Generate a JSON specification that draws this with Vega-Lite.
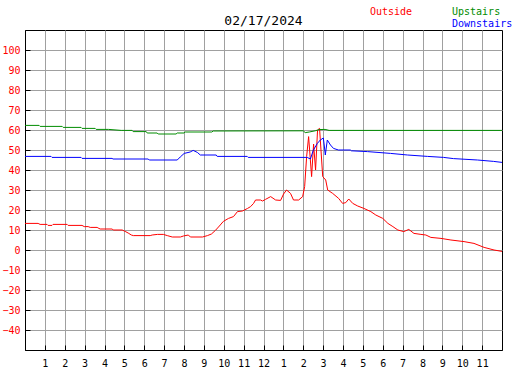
{
  "$schema": "https://vega.github.io/schema/vega-lite/v6.json",
  "width": 477,
  "height": 320,
  "autosize": "none",
  "padding": {"left": 25, "top": 30, "right": 25, "bottom": 20},
  "background": "white",
  "title": {"text": "02/17/2024", "font": "DejaVu Sans Mono", "fontSize": 13, "fontWeight": "normal", "color": "black", "anchor": "middle", "offset": 3, "dy": 24},
  "config": {
    "view": {"stroke": "black", "strokeWidth": 1},
    "axis": {
      "grid": true, "gridColor": "#a0a0a0", "gridOpacity": 1, "gridWidth": 1,
      "domainColor": "black", "tickColor": "black", "tickSize": -5,
      "labelFont": "DejaVu Sans Mono", "labelFontSize": 10, "title": null,
      "labelFlush": false, "labelOverlap": false
    }
  },
  "data": {"values": [
    {"s":"Outside","t":0,"v":13.3},{"s":"Outside","t":0.66,"v":13.3},{"s":"Outside","t":0.76,"v":12.8},{"s":"Outside","t":1.11,"v":12.8},{"s":"Outside","t":1.16,"v":12.3},{"s":"Outside","t":1.36,"v":12.3},{"s":"Outside","t":1.41,"v":12.8},{"s":"Outside","t":2.12,"v":12.8},{"s":"Outside","t":2.17,"v":12.3},{"s":"Outside","t":2.87,"v":12.3},{"s":"Outside","t":2.98,"v":11.7},{"s":"Outside","t":3.18,"v":11.7},{"s":"Outside","t":3.28,"v":11.3},{"s":"Outside","t":3.63,"v":11.3},{"s":"Outside","t":3.68,"v":11},{"s":"Outside","t":3.78,"v":10.5},{"s":"Outside","t":4.39,"v":10.5},{"s":"Outside","t":4.44,"v":10},{"s":"Outside","t":4.89,"v":10},{"s":"Outside","t":5.04,"v":9.3},{"s":"Outside","t":5.19,"v":8.5},{"s":"Outside","t":5.35,"v":7.5},{"s":"Outside","t":5.45,"v":7.2},{"s":"Outside","t":6.3,"v":7.2},{"s":"Outside","t":6.4,"v":7.5},{"s":"Outside","t":6.66,"v":7.8},{"s":"Outside","t":6.96,"v":7.8},{"s":"Outside","t":7.16,"v":7.2},{"s":"Outside","t":7.41,"v":6.5},{"s":"Outside","t":7.82,"v":6.5},{"s":"Outside","t":7.97,"v":7},{"s":"Outside","t":8.22,"v":7.5},{"s":"Outside","t":8.32,"v":6.5},{"s":"Outside","t":8.93,"v":6.5},{"s":"Outside","t":9.18,"v":7.2},{"s":"Outside","t":9.38,"v":8},{"s":"Outside","t":9.58,"v":9.8},{"s":"Outside","t":9.78,"v":12},{"s":"Outside","t":9.98,"v":14.3},{"s":"Outside","t":10.24,"v":15.8},{"s":"Outside","t":10.49,"v":16.7},{"s":"Outside","t":10.69,"v":19.2},{"s":"Outside","t":10.94,"v":19.5},{"s":"Outside","t":11.2,"v":20.8},{"s":"Outside","t":11.35,"v":21.7},{"s":"Outside","t":11.5,"v":23.3},{"s":"Outside","t":11.6,"v":25},{"s":"Outside","t":11.85,"v":25},{"s":"Outside","t":11.95,"v":24.5},{"s":"Outside","t":12.1,"v":25.3},{"s":"Outside","t":12.36,"v":26.7},{"s":"Outside","t":12.61,"v":25},{"s":"Outside","t":12.86,"v":24.8},{"s":"Outside","t":13.01,"v":28},{"s":"Outside","t":13.16,"v":30},{"s":"Outside","t":13.36,"v":28.3},{"s":"Outside","t":13.51,"v":25},{"s":"Outside","t":13.77,"v":25},{"s":"Outside","t":13.97,"v":26.7},{"s":"Outside","t":14.07,"v":31.7},{"s":"Outside","t":14.17,"v":46.7},{"s":"Outside","t":14.27,"v":56.7},{"s":"Outside","t":14.32,"v":50},{"s":"Outside","t":14.42,"v":36.7},{"s":"Outside","t":14.52,"v":53},{"s":"Outside","t":14.62,"v":40},{"s":"Outside","t":14.72,"v":60},{"s":"Outside","t":14.82,"v":60.8},{"s":"Outside","t":14.98,"v":36.7},{"s":"Outside","t":15.13,"v":35},{"s":"Outside","t":15.23,"v":30},{"s":"Outside","t":15.48,"v":28.3},{"s":"Outside","t":15.78,"v":25.8},{"s":"Outside","t":15.98,"v":23.3},{"s":"Outside","t":16.14,"v":23.7},{"s":"Outside","t":16.29,"v":25.5},{"s":"Outside","t":16.49,"v":23.3},{"s":"Outside","t":16.74,"v":22},{"s":"Outside","t":17.05,"v":20.8},{"s":"Outside","t":17.4,"v":19.2},{"s":"Outside","t":17.65,"v":17.5},{"s":"Outside","t":18.0,"v":15.8},{"s":"Outside","t":18.26,"v":13.3},{"s":"Outside","t":18.51,"v":11.7},{"s":"Outside","t":18.76,"v":10},{"s":"Outside","t":19.06,"v":9.2},{"s":"Outside","t":19.31,"v":10.3},{"s":"Outside","t":19.57,"v":8.3},{"s":"Outside","t":19.92,"v":7.8},{"s":"Outside","t":20.17,"v":7.5},{"s":"Outside","t":20.42,"v":6.3},{"s":"Outside","t":20.93,"v":5.8},{"s":"Outside","t":21.43,"v":5},{"s":"Outside","t":22.09,"v":4.2},{"s":"Outside","t":22.59,"v":3.3},{"s":"Outside","t":23.1,"v":1.3},{"s":"Outside","t":23.6,"v":0},{"s":"Outside","t":24,"v":-0.7},
    {"s":"Upstairs","t":0,"v":62.3},{"s":"Upstairs","t":0.71,"v":62.3},{"s":"Upstairs","t":0.76,"v":61.8},{"s":"Upstairs","t":1.87,"v":61.8},{"s":"Upstairs","t":1.92,"v":61.3},{"s":"Upstairs","t":2.82,"v":61.3},{"s":"Upstairs","t":2.87,"v":60.8},{"s":"Upstairs","t":3.53,"v":60.8},{"s":"Upstairs","t":3.58,"v":60.3},{"s":"Upstairs","t":4.2,"v":60.3},{"s":"Upstairs","t":4.84,"v":59.8},{"s":"Upstairs","t":5.39,"v":59.8},{"s":"Upstairs","t":5.44,"v":59.2},{"s":"Upstairs","t":6.1,"v":59.2},{"s":"Upstairs","t":6.15,"v":58.5},{"s":"Upstairs","t":6.65,"v":58.5},{"s":"Upstairs","t":6.7,"v":58},{"s":"Upstairs","t":7.6,"v":58},{"s":"Upstairs","t":7.66,"v":58.5},{"s":"Upstairs","t":8.0,"v":58.5},{"s":"Upstairs","t":8.06,"v":59},{"s":"Upstairs","t":9.4,"v":59},{"s":"Upstairs","t":9.47,"v":59.5},{"s":"Upstairs","t":14.0,"v":59.6},{"s":"Upstairs","t":14.1,"v":58.7},{"s":"Upstairs","t":14.3,"v":59},{"s":"Upstairs","t":14.6,"v":59.6},{"s":"Upstairs","t":14.8,"v":60.2},{"s":"Upstairs","t":15.1,"v":60.3},{"s":"Upstairs","t":15.3,"v":59.8},{"s":"Upstairs","t":24,"v":59.8},
    {"s":"Downstairs","t":0,"v":46.8},{"s":"Downstairs","t":1.31,"v":46.8},{"s":"Downstairs","t":1.36,"v":46.3},{"s":"Downstairs","t":2.82,"v":46.3},{"s":"Downstairs","t":2.87,"v":45.8},{"s":"Downstairs","t":4.38,"v":45.8},{"s":"Downstairs","t":4.43,"v":45.5},{"s":"Downstairs","t":6.2,"v":45.5},{"s":"Downstairs","t":6.25,"v":45},{"s":"Downstairs","t":7.66,"v":45},{"s":"Downstairs","t":7.81,"v":46.5},{"s":"Downstairs","t":8.01,"v":48.3},{"s":"Downstairs","t":8.31,"v":49},{"s":"Downstairs","t":8.46,"v":49.8},{"s":"Downstairs","t":8.67,"v":48.8},{"s":"Downstairs","t":8.82,"v":47.5},{"s":"Downstairs","t":9.62,"v":47.5},{"s":"Downstairs","t":9.67,"v":46.8},{"s":"Downstairs","t":11.18,"v":46.8},{"s":"Downstairs","t":11.23,"v":46.3},{"s":"Downstairs","t":14.2,"v":46.3},{"s":"Downstairs","t":14.36,"v":45.5},{"s":"Downstairs","t":14.51,"v":50},{"s":"Downstairs","t":14.71,"v":53.3},{"s":"Downstairs","t":14.86,"v":55},{"s":"Downstairs","t":15.01,"v":56},{"s":"Downstairs","t":15.06,"v":52},{"s":"Downstairs","t":15.11,"v":47.5},{"s":"Downstairs","t":15.21,"v":55},{"s":"Downstairs","t":15.37,"v":52.5},{"s":"Downstairs","t":15.52,"v":50.8},{"s":"Downstairs","t":15.77,"v":50},{"s":"Downstairs","t":16.37,"v":50},{"s":"Downstairs","t":16.42,"v":49.6},{"s":"Downstairs","t":17.23,"v":49.2},{"s":"Downstairs","t":18.39,"v":48.3},{"s":"Downstairs","t":19.25,"v":47.5},{"s":"Downstairs","t":20.25,"v":46.8},{"s":"Downstairs","t":21.06,"v":46.3},{"s":"Downstairs","t":21.56,"v":45.7},{"s":"Downstairs","t":22.77,"v":45},{"s":"Downstairs","t":23.58,"v":44.3},{"s":"Downstairs","t":24,"v":43.8}
  ]},
  "mark": {"type": "line", "strokeWidth": 1, "clip": true},
  "encoding": {
    "x": {
      "field": "t", "type": "quantitative",
      "scale": {"domain": [0, 24], "nice": false, "zero": false},
      "axis": {
        "values": [1,2,3,4,5,6,7,8,9,10,11,12,13,14,15,16,17,18,19,20,21,22,23],
        "labelExpr": "'' + (datum.value <= 12 ? datum.value : datum.value - 12)",
        "labelColor": "black", "labelPadding": 13, "labelBaseline": "top"
      }
    },
    "y": {
      "field": "v", "type": "quantitative",
      "scale": {"domain": [-50, 110], "nice": false, "zero": false},
      "axis": {
        "values": [-40,-30,-20,-10,0,10,20,30,40,50,60,70,80,90,100],
        "labelColor": "#ff0000", "labelPadding": 10
      }
    },
    "color": {
      "field": "s", "type": "nominal",
      "scale": {"domain": ["Outside","Upstairs","gap","Downstairs"], "range": ["#ff0000","#008c00","#ffffff","#0000ff"]},
      "legend": {
        "orient": "none", "legendX": 335, "legendY": -23, "direction": "horizontal", "columns": 2,
        "columnPadding": 29, "rowPadding": 2, "padding": 0, "title": null,
        "labelFont": "DejaVu Sans Mono", "labelFontSize": 10, "labelOffset": 0,
        "symbolSize": 0, "symbolOpacity": 0, "symbolStrokeWidth": 0,
        "labelExpr": "datum.label == 'gap' ? '' : (datum.label == 'Upstairs' ? '\u00a0\u00a0Upstairs' : datum.label)",
        "encode": {"labels": {"update": {"fill": {"scale": "color", "field": "value"}}}}
      }
    }
  }
}
